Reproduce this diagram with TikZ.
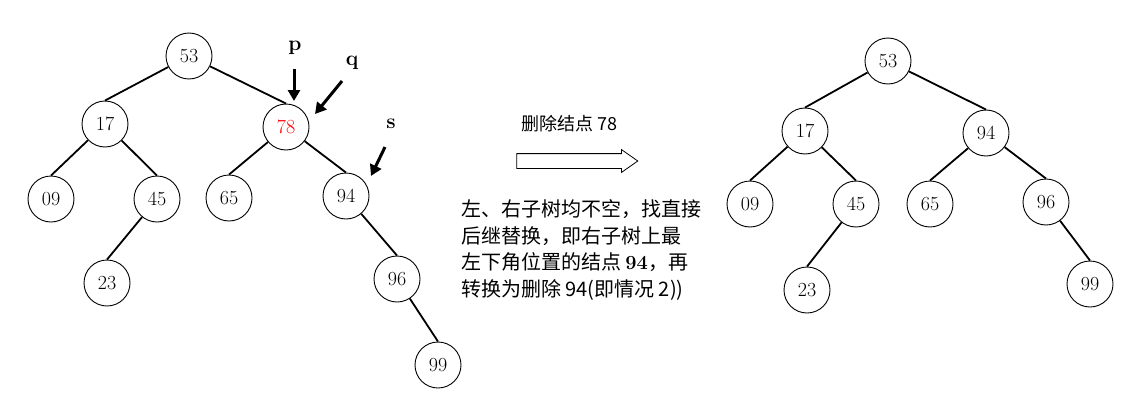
\documentclass[tikz,border=0pt]{standalone}
\usepackage{fontspec}
\newfontfamily\cjk{Noto Sans CJK SC}
\usetikzlibrary{arrows.meta,shapes.arrows}

\begin{document}
\begin{tikzpicture}[x=1pt,y=-1pt,>=Stealth,
  every node/.style={font=\fontsize{20}{22}\selectfont},
  key/.style={draw,circle,minimum size=46pt,inner sep=0pt,line width=0.9pt},
  link/.style={line width=1.8pt},
  ptr/.style={-{Triangle[length=11pt,width=12pt]},line width=3pt},
  tag/.style={font=\fontsize{21}{24}\selectfont\bfseries}]
\useasboundingbox (0,0) rectangle (1147,415);
% tree before deletion
\node[key] (a53) at (189,56) {53};
\node[key] (a17) at (105,124) {17};
\node[key] (a78) at (286,127) {\textcolor{red}{78}};
\node[key] (a09) at (51,199) {09};
\node[key] (a45) at (157,199) {45};
\node[key] (a65) at (229,198) {65};
\node[key] (a94) at (346,196) {94};
\node[key] (a23) at (107,283) {23};
\node[key] (a96) at (397,279) {96};
\node[key] (a99) at (438,365) {99};
\draw[link] (a53) -- (a17.north);
\draw[link] (a53) -- (a78.north);
\draw[link] (a17) -- (a09.north);
\draw[link] (a17) -- (a45.north);
\draw[link] (a45) -- (a23.north);
\draw[link] (a78) -- (a65.north);
\draw[link] (a78) -- (a94.north);
\draw[link] (a94) -- (a96.north);
\draw[link] (a96) -- (a99.north);
% pointers
\node[tag] (p) at (295,48) {p};
\node[tag] (q) at (352,63) {q};
\node[tag] (s) at (391,124) {s};
\coordinate (pA) at (294,69);
\coordinate (pB) at (294,101);
\coordinate (qA) at (342,81);
\coordinate (qB) at (315,114);
\coordinate (sA) at (385,147);
\coordinate (sB) at (371,176);
\draw[ptr] (pA) -- (pB);
\draw[ptr] (qA) -- (qB);
\draw[ptr] (sA) -- (sB);
% middle
\node[font=\fontsize{18}{20}\selectfont\cjk] (lbl) at (569,124) {删除结点 78};
\node[draw,single arrow,inner xsep=0pt,inner ysep=7pt,single arrow head extend=4pt,
  single arrow tip angle=70,minimum height=121pt,line width=0.8pt,outer sep=0pt] (blk) at (572,161) {};
\node[font=\fontsize{20}{26.7}\selectfont\cjk,align=left] (txt) at (581,250)
  {左、右子树均不空，找直接\\后继替换，即右子树上最\\左下角位置的结点 {\rmfamily\bfseries 94}，再\\转换为删除 94(即情况 2))};
% tree after deletion
\node[key] (b53) at (888,61) {53};
\node[key] (b17) at (805,131) {17};
\node[key] (b94) at (986,133) {94};
\node[key] (b09) at (750,204) {09};
\node[key] (b45) at (856,204) {45};
\node[key] (b65) at (930,204) {65};
\node[key] (b96) at (1046,202) {96};
\node[key] (b23) at (807,290) {23};
\node[key] (b99) at (1090,284) {99};
\draw[link] (b53) -- (b17.north);
\draw[link] (b53) -- (b94.north);
\draw[link] (b17) -- (b09.north);
\draw[link] (b17) -- (b45.north);
\draw[link] (b45) -- (b23.north);
\draw[link] (b94) -- (b65.north);
\draw[link] (b94) -- (b96.north);
\draw[link] (b96) -- (b99.north);
\end{tikzpicture}
\end{document}
